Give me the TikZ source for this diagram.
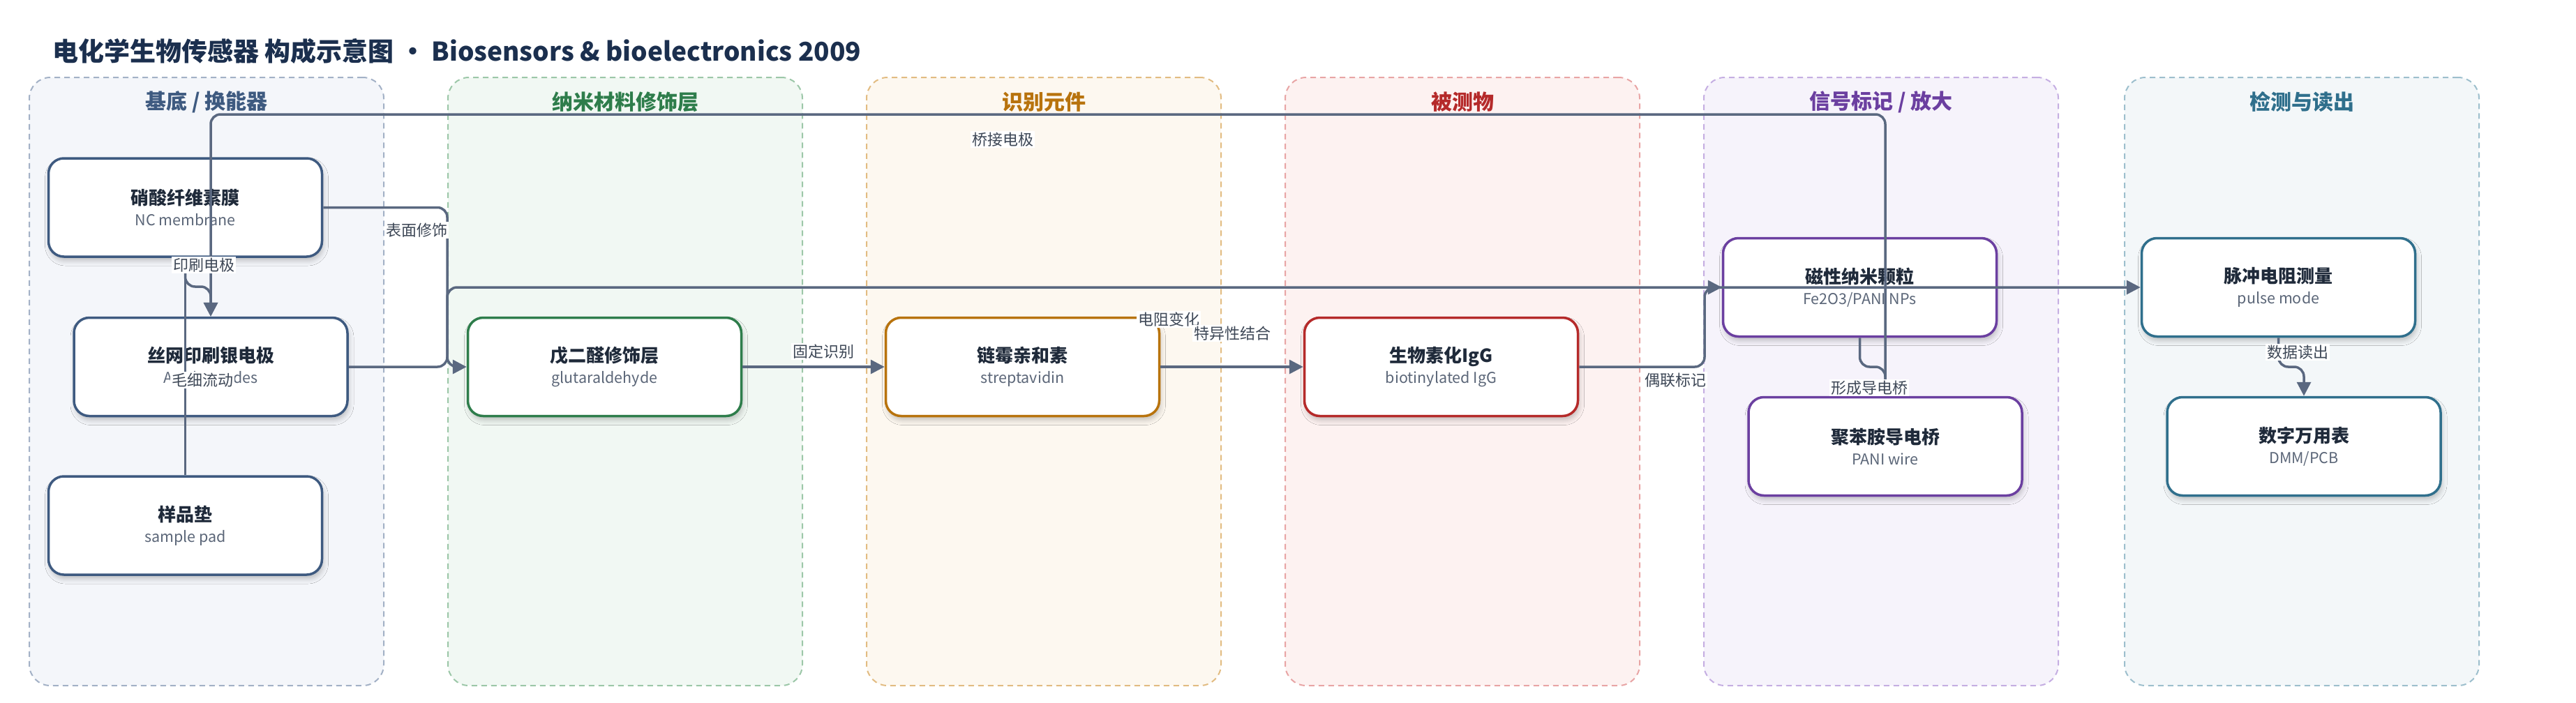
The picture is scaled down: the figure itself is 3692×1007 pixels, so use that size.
\documentclass[tikz,border=0pt]{standalone}
\usepackage{fontspec}
\setmainfont{Noto Sans CJK SC}
\usetikzlibrary{arrows.meta,shadows.blur}
\definecolor{ink}{HTML}{1F2A3A}
\definecolor{titlec}{HTML}{1B2F4E}
\definecolor{subc}{HTML}{5B6678}
\definecolor{edgec}{HTML}{5A6880}
\definecolor{elabc}{HTML}{3D4756}
\definecolor{fA}{HTML}{F4F6FA}\definecolor{bA}{HTML}{A3B1C6}\definecolor{cA}{HTML}{3E5A80}
\definecolor{fB}{HTML}{F1F8F3}\definecolor{bB}{HTML}{9CC7A8}\definecolor{cB}{HTML}{2E7D4B}
\definecolor{fC}{HTML}{FDF8F0}\definecolor{bC}{HTML}{E2BC82}\definecolor{cC}{HTML}{B8730D}
\definecolor{fD}{HTML}{FDF2F1}\definecolor{bD}{HTML}{E8A5A5}\definecolor{cD}{HTML}{B52A2A}
\definecolor{fE}{HTML}{F6F3FB}\definecolor{bE}{HTML}{C5AEE2}\definecolor{cE}{HTML}{6B3FA0}
\definecolor{fF}{HTML}{F3F7F9}\definecolor{bF}{HTML}{9DBFCD}\definecolor{cF}{HTML}{2F6F8C}
\newcommand\boxtext[2]{{\fontsize{26}{30}\selectfont\bfseries\color{ink}#1}\\{\fontsize{21.5}{30}\selectfont\color{subc}#2}}
\begin{document}
\begin{tikzpicture}[x=1pt,y=-1pt,
  lane/.style={draw=#1, dashed, dash pattern=on 8pt off 6pt, line width=2pt, rounded corners=30pt, minimum width=508pt, minimum height=872pt, inner sep=0pt},
  lanetitle/.style={text=#1, font=\fontsize{30}{34}\selectfont\bfseries, inner sep=0pt},
  box/.style={draw=#1, line width=3.5pt, rounded corners=22pt, fill=white, minimum width=392pt, minimum height=141pt, align=center, inner sep=0pt, font=\fontsize{22}{30}\selectfont,
    blur shadow={shadow xshift=2pt, shadow yshift=-6pt, shadow blur radius=7pt, shadow opacity=22}},
  conn/.style={draw=edgec, line width=3.5pt, rounded corners=14pt, -{Triangle[length=20pt,width=20pt]}},
  elab/.style={fill=white, text=elabc, font=\fontsize{22}{26}\selectfont, inner sep=2pt}
]
\useasboundingbox (0,0) rectangle (3692,1007);
% lanes
\node[lane=bA, fill=fA] (L1) at (296,547) {};
\node[lane=bB, fill=fB] (L2) at (896,547) {};
\node[lane=bC, fill=fC] (L3) at (1496,547) {};
\node[lane=bD, fill=fD] (L4) at (2096,547) {};
\node[lane=bE, fill=fE] (L5) at (2696,547) {};
\node[lane=bF, fill=fF] (L6) at (3299,547) {};
\node[lanetitle=cA] (T1) at (296,146) {基底 / 换能器};
\node[lanetitle=cB] (T2) at (896,146) {纳米材料修饰层};
\node[lanetitle=cC] (T3) at (1496,146) {识别元件};
\node[lanetitle=cD] (T4) at (2096,146) {被测物};
\node[lanetitle=cE] (T5) at (2696,146) {信号标记 / 放大};
\node[lanetitle=cF] (T6) at (3299,146) {检测与读出};
% title
\node[anchor=west, text=titlec, font=\fontsize{37}{43}\selectfont\bfseries, inner sep=0pt] (title) at (75,73) {电化学生物传感器 构成示意图 • Biosensors \& bioelectronics 2009};
% nodes
\node[box=cA] (n1) at (265.5,297.5) {\boxtext{硝酸纤维素膜}{NC membrane}};
\node[box=cA] (n2) at (302,526) {\boxtext{丝网印刷银电极}{Ag electrodes}};
\node[box=cA] (n3) at (265.5,753.5) {\boxtext{样品垫}{sample pad}};
\node[box=cB] (n4) at (866.5,526) {\boxtext{戊二醛修饰层}{glutaraldehyde}};
\node[box=cC] (n5) at (1465.5,526) {\boxtext{链霉亲和素}{streptavidin}};
\node[box=cD] (n6) at (2065.5,526) {\boxtext{生物素化IgG}{biotinylated IgG}};
\node[box=cE] (n7) at (2665.5,412) {\boxtext{磁性纳米颗粒}{Fe2O3/PANI NPs}};
\node[box=cE] (n8) at (2702,640) {\boxtext{聚苯胺导电桥}{PANI wire}};
\node[box=cF] (n9) at (3265.5,412) {\boxtext{脉冲电阻测量}{pulse mode}};
\node[box=cF] (n10) at (3302,640) {\boxtext{数字万用表}{DMM/PCB}};
% connectors
\draw[conn] (n3.north) -- (n1.south);
\draw[conn] (n1.south) -- (n1.south |- 0,411) -- (n2.north |- 0,411) -- (n2.north);
\draw[conn] (n1.east) -- (641,297.5) -- (641,526) -- (n4.west);
\draw[conn] (n2.east) -- (641,526) -- (641,412) -- (n9.west);
\draw[conn] (n4.east) -- (n5.west);
\draw[conn] (n5.east) -- (n6.west);
\draw[conn] (n6.east) -- (2443,526) -- (2443,412) -- (n7.west);
\draw[conn] (n7.south) -- (n7.south |- 0,526) -- (n8.north |- 0,526) -- (n8.north);
\draw[conn] (n8.north) -- (n8.north |- 0,164) -- (n2.north |- 0,164) -- (n2.north);
\draw[conn] (n9.south) -- (n9.south |- 0,526) -- (n10.north |- 0,526) -- (n10.north);
% connector labels
\node[elab] (l1) at (290,545) {毛细流动};
\node[elab] (l2) at (292,380) {印刷电极};
\node[elab] (l3) at (597,330) {表面修饰};
\node[elab] (l4) at (1675,458) {电阻变化};
\node[elab] (l5) at (1180,504) {固定识别};
\node[elab] (l6) at (1766,478) {特异性结合};
\node[elab] (l7) at (2401,545) {偶联标记};
\node[elab] (l8) at (2679,556) {形成导电桥};
\node[elab] (l9) at (1437,200) {桥接电极};
\node[elab] (l10) at (3293,505) {数据读出};
\end{tikzpicture}
\end{document}
